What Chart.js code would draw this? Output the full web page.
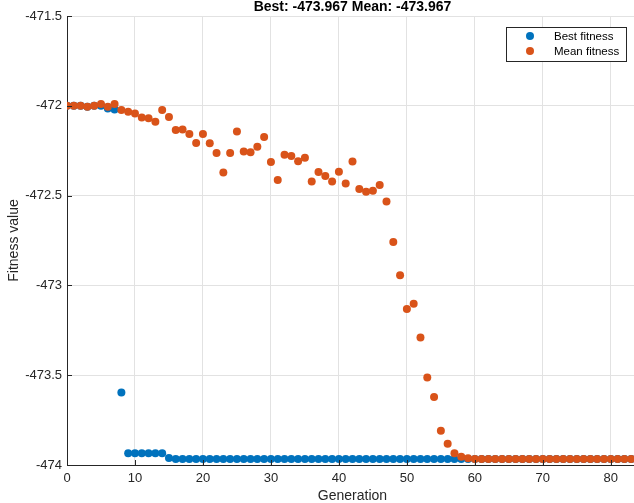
<!DOCTYPE html>
<html>
<head>
<meta charset="utf-8">
<script src="https://cdn.jsdelivr.net/npm/chart.js@4"></script>
<style>
  html, body { margin: 0; padding: 0; background: #ffffff; overflow: hidden; }
  #wrap { width: 634px; height: 503px; overflow: hidden; position: relative; }
  #ga { position: absolute; left: 0; top: 0; }
</style>
</head>
<body>
<div id="wrap"><canvas id="ga" width="642" height="503"></canvas></div>
<script>
// Generation index of each recorded population
const generations = [
  0, 1, 2, 3, 4, 5, 6, 7, 8, 9,
  10, 11, 12, 13, 14, 15, 16, 17, 18, 19,
  20, 21, 22, 23, 24, 25, 26, 27, 28, 29,
  30, 31, 32, 33, 34, 35, 36, 37, 38, 39,
  40, 41, 42, 43, 44, 45, 46, 47, 48, 49,
  50, 51, 52, 53, 54, 55, 56, 57, 58, 59,
  60, 61, 62, 63, 64, 65, 66, 67, 68, 69,
  70, 71, 72, 73, 74, 75, 76, 77, 78, 79,
  80, 81, 82, 83
];

// Best individual's fitness per generation
const bestFitness = [
  -472.000, -472.000, -472.000, -472.005, -472.000, -472.000, -472.015, -472.020, -473.596, -473.935,
  -473.935, -473.935, -473.935, -473.935, -473.935, -473.961, -473.967, -473.967, -473.967, -473.967,
  -473.967, -473.967, -473.967, -473.967, -473.967, -473.967, -473.967, -473.967, -473.967, -473.967,
  -473.967, -473.967, -473.967, -473.967, -473.967, -473.967, -473.967, -473.967, -473.967, -473.967,
  -473.967, -473.967, -473.967, -473.967, -473.967, -473.967, -473.967, -473.967, -473.967, -473.967,
  -473.967, -473.967, -473.967, -473.967, -473.967, -473.967, -473.967, -473.967, -473.967, -473.967,
  -473.967, -473.967, -473.967, -473.967, -473.967, -473.967, -473.967, -473.967, -473.967, -473.967,
  -473.967, -473.967, -473.967, -473.967, -473.967, -473.967, -473.967, -473.967, -473.967, -473.967,
  -473.967, -473.967, -473.967, -473.967
];

// Population mean fitness per generation
const meanFitness = [
  -472.000, -472.000, -472.000, -472.005, -472.000, -471.990, -472.005, -471.990, -472.024, -472.033,
  -472.043, -472.065, -472.070, -472.089, -472.024, -472.063, -472.135, -472.132, -472.157, -472.207,
  -472.157, -472.209, -472.263, -472.372, -472.263, -472.143, -472.254, -472.259, -472.228, -472.174,
  -472.313, -472.413, -472.272, -472.279, -472.309, -472.289, -472.421, -472.369, -472.391, -472.421,
  -472.367, -472.433, -472.310, -472.463, -472.478, -472.473, -472.441, -472.533, -472.758, -472.943,
  -473.132, -473.102, -473.290, -473.513, -473.622, -473.809, -473.882, -473.935, -473.954, -473.963,
  -473.967, -473.967, -473.967, -473.967, -473.967, -473.967, -473.967, -473.967, -473.967, -473.967,
  -473.967, -473.967, -473.967, -473.967, -473.967, -473.967, -473.967, -473.967, -473.967, -473.967,
  -473.967, -473.967, -473.967, -473.967
];

const xTickValues = [0, 10, 20, 30, 40, 50, 60, 70, 80];
const yTickValues = [-474, -473.5, -473, -472.5, -472, -471.5];

const titleText = 'Best: -473.967 Mean: -473.967';
const seriesNames = ['Best fitness', 'Mean fitness'];

const BLUE = '#0072BD';
const ORANGE = '#D95319';
const AXIS = '#262626';
const GRID = '#e2e2e2';
const FONT = '"Liberation Sans", Arial, Helvetica, sans-serif';
const DOT_R = 4;

const toPoints = (ys) => generations.map((g, i) => ({ x: g, y: ys[i] }));

// Title centred over the plot area
const plotTitle = {
  id: 'plotTitle',
  afterDraw(chart) {
    const { ctx, chartArea: a } = chart;
    ctx.save();
    ctx.font = 'bold 14px ' + FONT;
    ctx.fillStyle = '#000000';
    ctx.textAlign = 'center';
    ctx.textBaseline = 'middle';
    ctx.fillText(titleText, (a.left + a.right) / 2, 7.5);
    ctx.restore();
  }
};

// Short tick marks pointing into the plot area
const innerTicks = {
  id: 'innerTicks',
  afterDraw(chart) {
    const { ctx, chartArea: a, scales } = chart;
    ctx.save();
    ctx.strokeStyle = AXIS;
    ctx.lineWidth = 1;
    ctx.beginPath();
    xTickValues.forEach(v => {
      const px = Math.round(scales.x.getPixelForValue(v)) + 0.5;
      ctx.moveTo(px, a.bottom);
      ctx.lineTo(px, a.bottom - 5);
    });
    yTickValues.forEach(v => {
      const py = Math.round(scales.y.getPixelForValue(v)) + 0.5;
      ctx.moveTo(a.left, py);
      ctx.lineTo(a.left + 5, py);
    });
    ctx.stroke();
    ctx.restore();
  }
};

// Boxed legend in the upper right corner
const boxLegend = {
  id: 'boxLegend',
  afterDraw(chart) {
    const { ctx } = chart;
    const bx = 506.5, by = 27.5, bw = 120, bh = 34;
    ctx.save();
    ctx.fillStyle = '#ffffff';
    ctx.fillRect(bx, by, bw, bh);
    ctx.strokeStyle = AXIS;
    ctx.lineWidth = 1;
    ctx.strokeRect(bx, by, bw, bh);
    ctx.font = '11.5px ' + FONT;
    ctx.textBaseline = 'middle';
    ctx.textAlign = 'left';
    chart.data.datasets.forEach((ds, i) => {
      const cy = 36 + i * 15;
      ctx.fillStyle = ds.backgroundColor;
      ctx.beginPath();
      ctx.arc(530, cy, DOT_R, 0, Math.PI * 2);
      ctx.fill();
      ctx.fillStyle = '#000000';
      ctx.fillText(ds.label, 554, cy + 0.5);
    });
    ctx.restore();
  }
};

new Chart(document.getElementById('ga'), {
  type: 'scatter',
  data: {
    datasets: [
      {
        label: seriesNames[0],
        data: toPoints(bestFitness),
        backgroundColor: BLUE,
        borderColor: BLUE,
        borderWidth: 0,
        pointRadius: DOT_R,
        order: 1
      },
      {
        label: seriesNames[1],
        data: toPoints(meanFitness),
        backgroundColor: ORANGE,
        borderColor: ORANGE,
        borderWidth: 0,
        pointRadius: DOT_R,
        order: 0
      }
    ]
  },
  options: {
    responsive: false,
    animation: false,
    devicePixelRatio: 1,
    layout: { padding: { left: 0, right: 0, top: 16, bottom: 0 } },
    plugins: {
      legend: { display: false },
      tooltip: { enabled: false },
      title: { display: false }
    },
    scales: {
      x: {
        type: 'linear',
        min: 0,
        max: 84,
        afterFit(scale) {
          scale.height = 38;
          scale.paddingLeft = 0;
          scale.paddingRight = 0;
        },
        afterBuildTicks(scale) { scale.ticks = xTickValues.map(v => ({ value: v })); },
        grid: { color: GRID, drawTicks: false },
        border: { color: AXIS, width: 1 },
        ticks: {
          color: AXIS,
          padding: 6,
          maxRotation: 0,
          font: { family: FONT, size: 13 }
        },
        title: {
          display: true,
          text: 'Generation',
          color: AXIS,
          font: { family: FONT, size: 14, lineHeight: 1.0 },
          padding: { top: 0, bottom: 0 }
        }
      },
      y: {
        type: 'linear',
        min: -474,
        max: -471.5,
        afterFit(scale) {
          scale.width = 67;
          scale.paddingTop = 0;
          scale.paddingBottom = 0;
        },
        afterBuildTicks(scale) { scale.ticks = yTickValues.map(v => ({ value: v })); },
        grid: { color: GRID, drawTicks: false },
        border: { color: AXIS, width: 1 },
        ticks: {
          color: AXIS,
          padding: 5,
          font: { family: FONT, size: 13 },
          callback: (v) => String(v)
        },
        title: {
          display: true,
          text: 'Fitness value',
          color: AXIS,
          font: { family: FONT, size: 14 },
          padding: { top: 6, bottom: 0 }
        }
      }
    }
  },
  plugins: [plotTitle, innerTicks, boxLegend]
});
</script>
</body>
</html>
